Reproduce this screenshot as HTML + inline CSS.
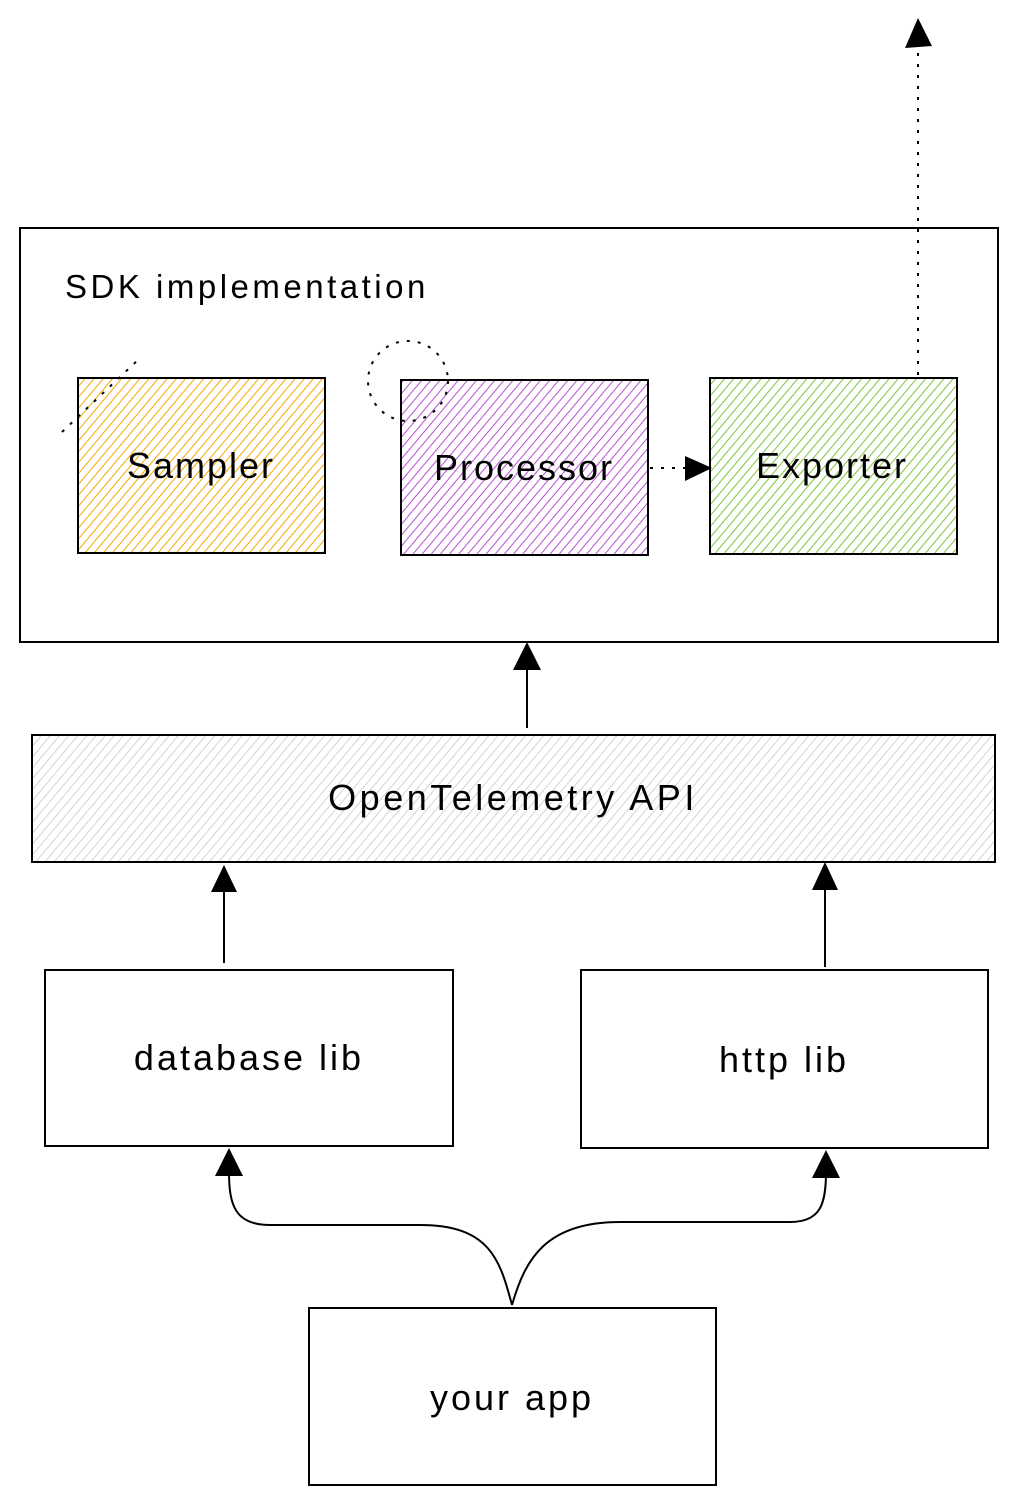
<!DOCTYPE html>
<html><head><meta charset="utf-8"><style>
html,body{margin:0;padding:0;background:#fff;}
svg{display:block;}
text{font-family:"Liberation Sans",sans-serif;fill:#000;}
</style></head><body>
<svg width="1018" height="1505" viewBox="0 0 1018 1505" xmlns="http://www.w3.org/2000/svg">
<defs>
<pattern id="ho" width="7" height="7" patternUnits="userSpaceOnUse" patternTransform="rotate(40)"><line x1="0" y1="0" x2="0" y2="7" stroke="#f5a700" stroke-width="2"/></pattern>
<pattern id="hp" width="7" height="7" patternUnits="userSpaceOnUse" patternTransform="rotate(40)"><line x1="0" y1="0" x2="0" y2="7" stroke="#b84fd6" stroke-width="2"/></pattern>
<pattern id="hg" width="7" height="7" patternUnits="userSpaceOnUse" patternTransform="rotate(40)"><line x1="0" y1="0" x2="0" y2="7" stroke="#7cc63a" stroke-width="2"/></pattern>
<pattern id="hx" width="7" height="7" patternUnits="userSpaceOnUse" patternTransform="rotate(40)"><line x1="0" y1="0" x2="0" y2="7" stroke="#c8c8c8" stroke-width="1.6"/></pattern>
</defs>
<g fill="none" stroke="#000" stroke-width="2">
<rect x="20" y="228" width="978" height="414"/>
<rect x="78" y="378" width="247" height="175" fill="url(#ho)"/>
<rect x="401" y="380" width="247" height="175" fill="url(#hp)"/>
<rect x="710" y="378" width="247" height="176" fill="url(#hg)"/>
<rect x="32" y="735" width="963" height="127" fill="url(#hx)"/>
<rect x="45" y="970" width="408" height="176"/>
<rect x="581" y="970" width="407" height="178"/>
<rect x="309" y="1308" width="407" height="177"/>
<line x1="918" y1="375" x2="918" y2="45" stroke-dasharray="3,8"/>
<line x1="62" y1="432" x2="140" y2="358" stroke-dasharray="3,8"/>
<circle cx="408" cy="381" r="40" stroke-dasharray="3,8"/>
<line x1="650" y1="468" x2="690" y2="468" stroke-dasharray="3,8"/>
<line x1="527" y1="728" x2="527" y2="665"/>
<line x1="224" y1="963" x2="224" y2="888"/>
<line x1="825" y1="967" x2="825" y2="885"/>
<path d="M512 1305 C500 1260 490 1225 420 1225 L270 1225 C235 1225 229 1205 229 1172"/>
<path d="M512 1305 C525 1260 545 1222 620 1222 L790 1222 C820 1222 826 1205 826 1172"/>
</g>
<g fill="#000">
<polygon points="918,18 905,48 932,46"/>
<polygon points="712,468 685,456 685,481"/>
<polygon points="527,642 513,670 541,670"/>
<polygon points="224,865 211,892 237,892"/>
<polygon points="825,862 812,890 838,890"/>
<polygon points="229,1148 215,1176 243,1176"/>
<polygon points="826,1150 812,1178 840,1178"/>
</g>
<text x="65" y="298" font-size="33" letter-spacing="3.5">SDK implementation</text>
<text x="201" y="478" font-size="36" letter-spacing="2" text-anchor="middle">Sampler</text>
<text x="524" y="480" font-size="36" letter-spacing="2" text-anchor="middle">Processor</text>
<text x="832" y="478" font-size="36" letter-spacing="2" text-anchor="middle">Exporter</text>
<text x="513" y="810" font-size="36" letter-spacing="3.5" text-anchor="middle">OpenTelemetry API</text>
<text x="249" y="1070" font-size="36" letter-spacing="3" text-anchor="middle">database lib</text>
<text x="784" y="1072" font-size="36" letter-spacing="3" text-anchor="middle">http lib</text>
<text x="512" y="1410" font-size="36" letter-spacing="3" text-anchor="middle">your app</text>
</svg>
</body></html>
